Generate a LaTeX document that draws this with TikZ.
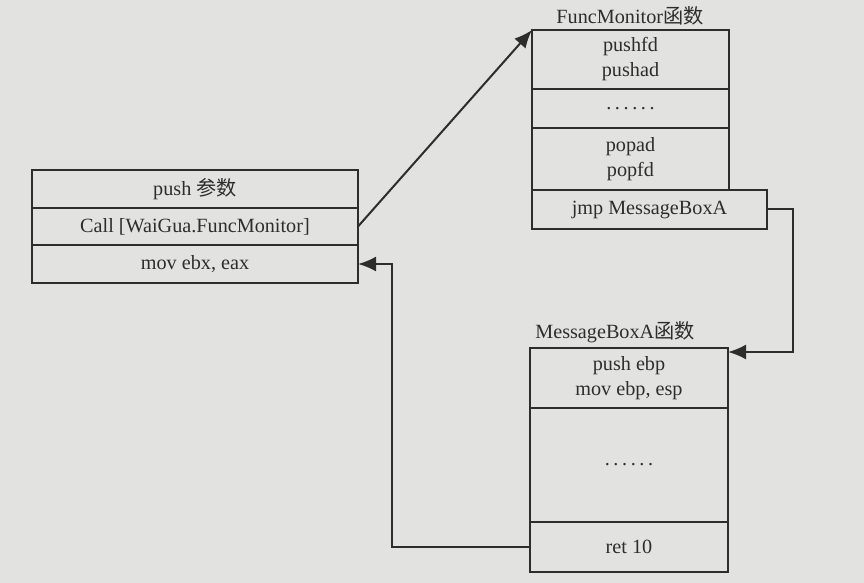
\documentclass[tikz,border=0pt]{standalone}
\usepackage{fontspec}
\setmainfont{Liberation Serif}
\newfontfamily\cjk{Noto Sans CJK SC}
\usetikzlibrary{arrows.meta,calc}
\definecolor{bgc}{RGB}{226,226,224}
\definecolor{ink}{RGB}{45,45,45}
\newcommand\sixdots{.\kern1.8pt.\kern1.8pt.\kern1.8pt.\kern1.8pt.\kern1.8pt.}
\begin{document}
\begin{tikzpicture}[x=0.5pt,y=-0.5pt,
  every node/.style={font=\fontsize{10.1}{12.5}\selectfont, text=ink},
  row/.style={draw=ink, line width=0.65pt, inner sep=0pt, outer sep=0pt, align=center},
  arr/.style={draw=ink, line width=1pt, -{Latex[length=9pt,width=7.5pt]}},
  lbl/.style={inner sep=0pt}]
\fill[bgc] (0,0) rectangle (864,583);
\useasboundingbox (0,0) rectangle (864,583);
% left box
\node[row, minimum width=163pt, minimum height=19pt] (push) at (195,189) {push {\cjk 参数}};
\node[row, minimum width=163pt, minimum height=18.5pt] (call) at (195,226.5) {Call [WaiGua.FuncMonitor]};
\node[row, minimum width=163pt, minimum height=19pt] (mov) at (195,264) {mov ebx, eax};
% FuncMonitor
\node[lbl] (fmlabel) at (630,16) {FuncMonitor{\cjk 函数}};
\node[row, minimum width=98.5pt, minimum height=29.5pt] (fm1) at (630.5,59.5) {pushfd\\pushad};
\node[row, minimum width=98.5pt, minimum height=19.5pt] (fm2) at (630.5,108.5) {\sixdots};
\node[row, minimum width=98.5pt, minimum height=31pt] (fm3) at (630.5,159) {popad\\popfd};
\node[row, minimum width=117.5pt, minimum height=19.5pt] (jmp) at (649.5,209.5) {jmp MessageBoxA};
% MessageBoxA
\node[lbl] (mblabel) at (615,332) {MessageBoxA{\cjk 函数}};
\node[row, minimum width=99pt, minimum height=30pt] (mb1) at (629,378) {push ebp\\mov ebp, esp};
\node[row, minimum width=99pt, minimum height=57pt] (mb2) at (629,465) {\sixdots};
\node[row, minimum width=99pt, minimum height=25pt] (ret) at (629,547) {ret 10};
\coordinate (mbin) at ($(mb1.north east)+(0,4)$);
% connectors
\draw[arr] (call.east) -- (fm1.north west);
\draw[arr] (jmp.east) -- ++(26,0) |- (mbin);
\draw[arr] (ret.west) -- ++(-138,0) |- (mov.east);
\end{tikzpicture}
\end{document}
